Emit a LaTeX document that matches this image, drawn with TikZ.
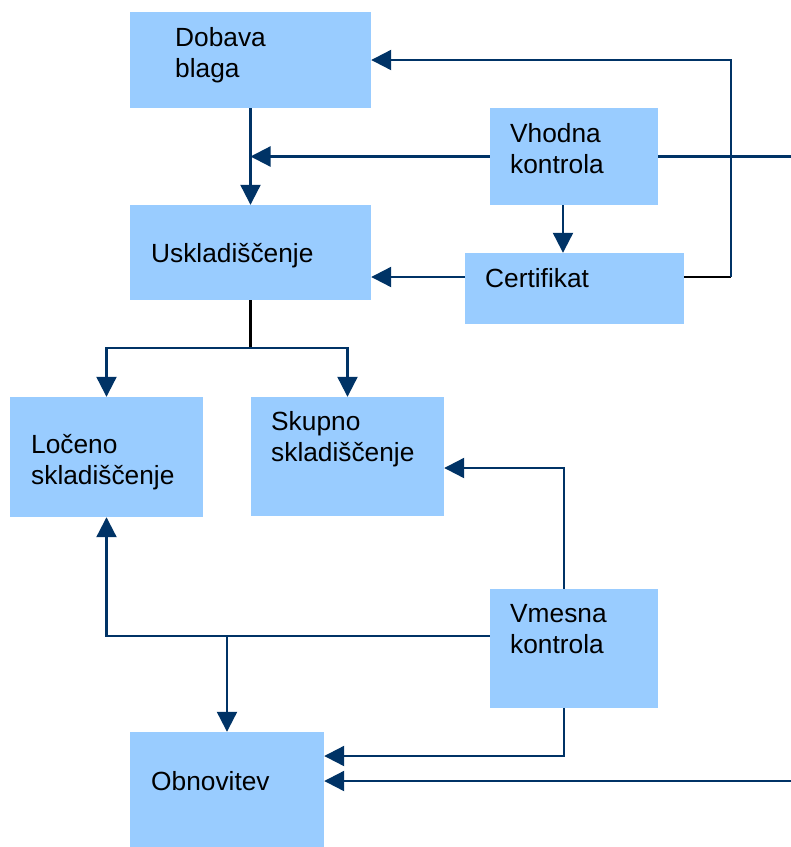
\documentclass[tikz,border=0pt]{standalone}
\usepackage{fontspec}
\setmainfont{Liberation Sans}
\usetikzlibrary{arrows.meta}
\definecolor{boxblue}{HTML}{99CCFF}
\definecolor{navy}{HTML}{003366}
\begin{document}
\begin{tikzpicture}[x=1pt,y=-1pt,
  box/.style={fill=boxblue, draw=none, inner sep=0pt},
  lbl/.style={anchor=base west, inner sep=0pt, align=left,
    font=\fontsize{26.3}{30.5}\selectfont},
  link/.style={draw=navy, line width=2.2pt},
  arr/.style={link, -{Triangle[length=20pt,width=20pt]}}
]
\useasboundingbox (0,0) rectangle (791,847);

% process boxes
\node[box, minimum width=241pt, minimum height=96pt]  (dob) at (250.5,60) {};
\node[box, minimum width=168pt, minimum height=97pt]  (vho) at (574,156.5) {};
\node[box, minimum width=241pt, minimum height=95pt]  (usk) at (250.5,252.5) {};
\node[box, minimum width=219pt, minimum height=71pt]  (cer) at (574.5,288.5) {};
\node[box, minimum width=193pt, minimum height=120pt] (loc) at (106.5,457) {};
\node[box, minimum width=193pt, minimum height=119pt] (sku) at (347.5,456.5) {};
\node[box, minimum width=168pt, minimum height=119pt] (vme) at (574,648.5) {};
\node[box, minimum width=194pt, minimum height=115pt] (obn) at (227,789.5) {};

% labels (base anchor sits on the last line)
\node[lbl] (tdob) at (175,77)  {Dobava\\blaga};
\node[lbl] (tvho) at (510,173) {Vhodna\\kontrola};
\node[lbl] (tusk) at (151,262) {Uskladiščenje};
\node[lbl] (tcer) at (485,287) {Certifikat};
\node[lbl] (tloc) at (31,484)  {Ločeno\\skladiščenje};
\node[lbl] (tsku) at (271,461) {Skupno\\skladiščenje};
\node[lbl] (tvme) at (510,653) {Vmesna\\kontrola};
\node[lbl] (tobn) at (151,790) {Obnovitev};

% free ends at the right margin
\coordinate (edgeA) at (791,156.5);
\coordinate (edgeB) at (791,781);

% connectors
\draw[arr] (dob.south) -- (usk.north);
\draw[arr] (vho.west) -- (dob.south |- vho.west);
\draw[link] (vho.east) -- (edgeA);
\draw[arr] ([xshift=-11pt]vho.south) -- ([xshift=-11pt]vho.south |- cer.north);
\draw[arr] ([yshift=11.5pt]cer.west) -- ([yshift=11.5pt]cer.west -| usk.east);
\draw[link, draw=black] ([yshift=11.5pt]cer.east) -- ++(47,0) coordinate (cturn);
\draw[arr] (cturn) |- (dob.east);

\draw[link, draw=black] (usk.south) -- ++(0,48) coordinate (split);
\draw[arr] (split) -| (loc.north);
\draw[arr] (split) -| (sku.north);

\draw[arr] ([xshift=-10pt]vme.north) |- ([yshift=-11.5pt]sku.east);
\draw[arr] ([yshift=12.5pt]vme.west) -| (loc.south);
\draw[arr] ([yshift=12.5pt]vme.west -| obn.north) -- (obn.north);
\draw[arr] ([xshift=-10pt]vme.south) |- ([yshift=33.5pt]obn.east);
\draw[arr] (edgeB) -- ([yshift=8.5pt]obn.east);
\end{tikzpicture}
\end{document}
